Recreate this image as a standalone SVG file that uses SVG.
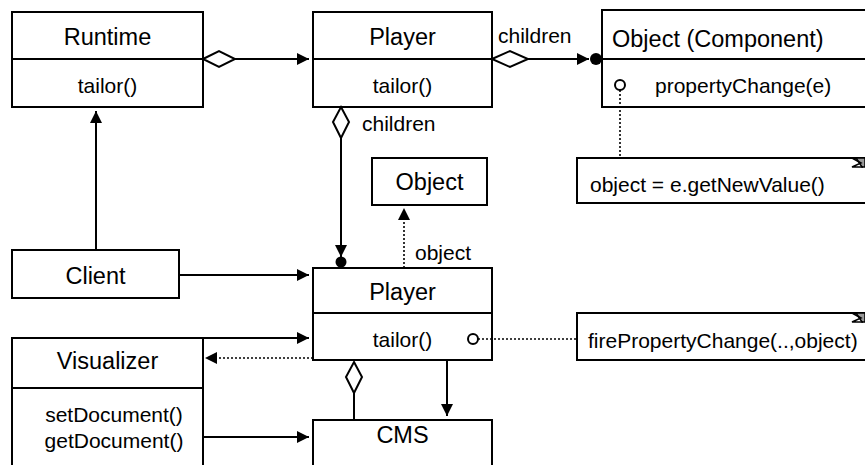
<svg xmlns="http://www.w3.org/2000/svg" width="865" height="465" viewBox="0 0 865 465">
  <style>
    .box { fill: #fff; stroke: #000; stroke-width: 2; }
    .div { stroke: #000; stroke-width: 2; }
    .ln { fill: none; stroke: #000; stroke-width: 2; }
    .dot { fill: none; stroke: #000; stroke-width: 1.6; stroke-dasharray: 2 2; }
    .dia { fill: #fff; stroke: #000; stroke-width: 2; }
    .head { fill: #000; }
    .t { font-family: "Liberation Sans", Arial, sans-serif; fill: #000; }
    .ttl { font-size: 23.5px; text-anchor: middle; }
    .mth { font-size: 21px; text-anchor: middle; }
    .lbl { font-size: 21px; }
    .port { fill: #fff; stroke: #000; stroke-width: 2; }
    .fold { fill: #999; stroke: #000; stroke-width: 1.5; }
  </style>
  <defs>
    <marker id="arr" viewBox="0 0 12 12" refX="12" refY="6" markerWidth="12" markerHeight="12" markerUnits="userSpaceOnUse" orient="auto">
      <path d="M0,0 L12,6 L0,12 z" class="head"/>
    </marker>
  </defs>

  <!-- classes -->
  <g id="runtime">
    <rect class="box" x="12" y="12" width="191" height="95"/>
    <line class="div" x1="12" y1="59" x2="203" y2="59"/>
    <text class="t ttl" x="107.5" y="45">Runtime</text>
    <text class="t mth" x="107.5" y="93">tailor()</text>
  </g>

  <g id="player-top">
    <rect class="box" x="313" y="12" width="179" height="95"/>
    <line class="div" x1="313" y1="59" x2="492" y2="59"/>
    <text class="t ttl" x="402.5" y="45">Player</text>
    <text class="t mth" x="402.5" y="93">tailor()</text>
  </g>

  <g id="object-component">
    <rect class="box" x="602" y="10" width="280" height="97"/>
    <line class="div" x1="602" y1="59" x2="865" y2="59"/>
    <text class="t lbl" x="612" y="47" style="font-size:23.5px">Object (Component)</text>
    <circle class="port" cx="620" cy="85" r="5"/>
    <text class="t lbl" x="655" y="93">propertyChange(e)</text>
  </g>

  <g id="note-newvalue">
    <rect class="box" x="577" y="158" width="300" height="45"/>
    <polygon class="fold" points="856,158 865,158 865,167 862,167"/>
    <path class="ln" style="stroke-width:1.5" d="M852,158 L861,163 L852,167 L863,167"/>
    <text class="t lbl" x="590" y="192">object = e.getNewValue()</text>
  </g>

  <g id="object">
    <rect class="box" x="372" y="158" width="115" height="47"/>
    <text class="t ttl" x="429.5" y="190">Object</text>
  </g>

  <g id="client">
    <rect class="box" x="12" y="250" width="167" height="48"/>
    <text class="t ttl" x="95.5" y="284">Client</text>
  </g>

  <g id="player">
    <rect class="box" x="313" y="268" width="179" height="92"/>
    <line class="div" x1="313" y1="313" x2="492" y2="313"/>
    <text class="t ttl" x="402.5" y="300">Player</text>
    <text class="t mth" x="402.5" y="347">tailor()</text>
    <circle class="port" cx="473" cy="339" r="5"/>
  </g>

  <g id="note-fire">
    <rect class="box" x="577" y="313" width="300" height="47"/>
    <polygon class="fold" points="856,313 865,313 865,322 862,322"/>
    <path class="ln" style="stroke-width:1.5" d="M852,313 L861,318 L852,322 L863,322"/>
    <text class="t lbl" x="588" y="348">firePropertyChange(..,object)</text>
  </g>

  <g id="visualizer">
    <rect class="box" x="12" y="338" width="191" height="140"/>
    <line class="div" x1="12" y1="388" x2="203" y2="388"/>
    <text class="t ttl" x="107.5" y="369">Visualizer</text>
    <text class="t mth" x="114" y="422">setDocument()</text>
    <text class="t mth" x="114" y="448">getDocument()</text>
  </g>

  <g id="cms">
    <rect class="box" x="313" y="420" width="179" height="60"/>
    <text class="t ttl" x="402.5" y="443">CMS</text>
  </g>

  <!-- connectors -->
  <g id="connectors">
    <!-- Runtime aggregates Player -->
    <line class="ln" x1="235" y1="59" x2="309" y2="59" marker-end="url(#arr)"/>
    <polygon class="dia" points="203,59 219,51 235,59 219,67"/>

    <!-- Player aggregates children components -->
    <line class="ln" x1="528" y1="59" x2="589" y2="59" marker-end="url(#arr)"/>
    <polygon class="dia" points="492,59 510,51 528,59 510,67"/>
    <circle cx="596" cy="59" r="6" fill="#000"/>
    <text class="t lbl" x="498" y="43">children</text>

    <!-- Player children (vertical) -->
    <line class="ln" x1="341" y1="138" x2="341" y2="257" marker-end="url(#arr)"/>
    <polygon class="dia" points="341,107 349,122 341,138 333,122"/>
    <circle cx="341" cy="262" r="5.5" fill="#000"/>
    <text class="t lbl" x="362" y="131">children</text>

    <!-- Player refers to Object -->
    <line class="dot" x1="404" y1="268" x2="404" y2="208" marker-end="url(#arr)"/>
    <text class="t lbl" x="415" y="260">object</text>

    <!-- Client uses Runtime and Player -->
    <line class="ln" x1="96" y1="250" x2="96" y2="111" marker-end="url(#arr)"/>
    <line class="ln" x1="179" y1="275" x2="309" y2="275" marker-end="url(#arr)"/>

    <!-- Visualizer and Player -->
    <line class="ln" x1="203" y1="338" x2="309" y2="338" marker-end="url(#arr)"/>
    <line class="dot" x1="313" y1="358" x2="205" y2="358" marker-end="url(#arr)"/>
    <line class="ln" x1="203" y1="437" x2="309" y2="437" marker-end="url(#arr)"/>

    <!-- Player and CMS -->
    <polygon class="dia" points="354,362 362,377 354,393 346,377"/>
    <line class="ln" x1="354" y1="393" x2="354" y2="420"/>
    <line class="ln" x1="447" y1="360" x2="447" y2="416" marker-end="url(#arr)"/>

    <!-- event links to notes -->
    <line class="dot" x1="620" y1="90" x2="620" y2="158"/>
    <line class="dot" x1="478" y1="339" x2="577" y2="339"/>
  </g>
</svg>
